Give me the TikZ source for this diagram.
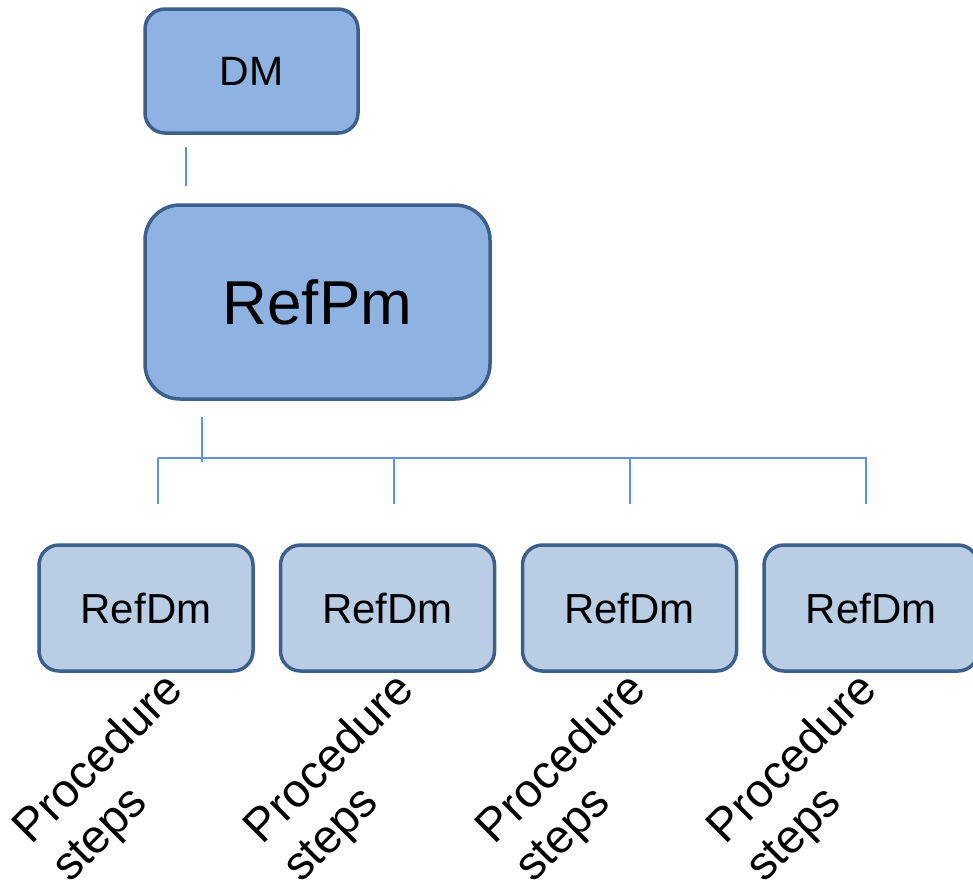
\documentclass[tikz,border=0pt]{standalone}
\usepackage{fontspec}
\setmainfont{Liberation Sans}
\usetikzlibrary{calc}
\definecolor{boxedge}{RGB}{60,95,140}
\definecolor{topfill}{RGB}{142,179,226}
\definecolor{leaffill}{RGB}{185,205,229}
\definecolor{wirecol}{RGB}{96,146,216}
\begin{document}
\begin{tikzpicture}[x=1pt,y=-1pt,
  box/.style={draw=boxedge, line width=3.5pt, inner sep=0pt, align=center},
  topbox/.style={box, fill=topfill},
  leaf/.style={box, fill=leaffill, minimum width=214pt, minimum height=126pt,
    rounded corners=20pt, font=\fontsize{42}{50}\selectfont},
  wire/.style={draw=wirecol, line width=1.6pt},
  steplabel/.style={rotate=45, anchor=base west, align=left, inner sep=0pt,
    font=\fontsize{47}{54}\selectfont}]
\useasboundingbox (0,0) rectangle (973,881);
\clip (0,0) rectangle (973,881);

% top of the hierarchy
\node[topbox, minimum width=213pt, minimum height=124pt, rounded corners=20pt,
  font=\fontsize{41}{49}\selectfont] (dm) at (251.5,71) {DM};
\node[topbox, minimum width=345pt, minimum height=194pt, rounded corners=35pt,
  font=\fontsize{62}{74}\selectfont] (refpm) at (317.5,302) {RefPm};

% data modules
\node[leaf] (leaf1) at (146,608) {RefDm};
\node[leaf] (leaf2) at (387.5,608) {RefDm};
\node[leaf] (leaf3) at (629.5,608) {RefDm};
\node[leaf] (leaf4) at (871,608) {RefDm};

% connectors
\draw[wire] ($(dm.south west)+(43,12)$) -- ($(refpm.north west)+(43,-17)$);
\draw[wire] ($(refpm.south west)+(59,16)$) -- ($(refpm.south west)+(59,61)$);
\draw[wire] ($(leaf1.north)+(12,-85)$) -- ($(leaf4.north)+(-4,-85)$);
\foreach \n/\dx in {1/12,2/6.5,3/0.5,4/-5}
  \draw[wire] ($(leaf\n.north)+(\dx,-85)$) -- ($(leaf\n.north)+(\dx,-39)$);

% rotated captions under the data modules (anchored on the last line)
\node[steplabel] (ps1) at (70,884) {Procedure\\steps};
\node[steplabel] (ps2) at (301,884) {Procedure\\steps};
\node[steplabel] (ps3) at (533,884) {Procedure\\steps};
\node[steplabel] (ps4) at (764,884) {Procedure\\steps};
\end{tikzpicture}
\end{document}
